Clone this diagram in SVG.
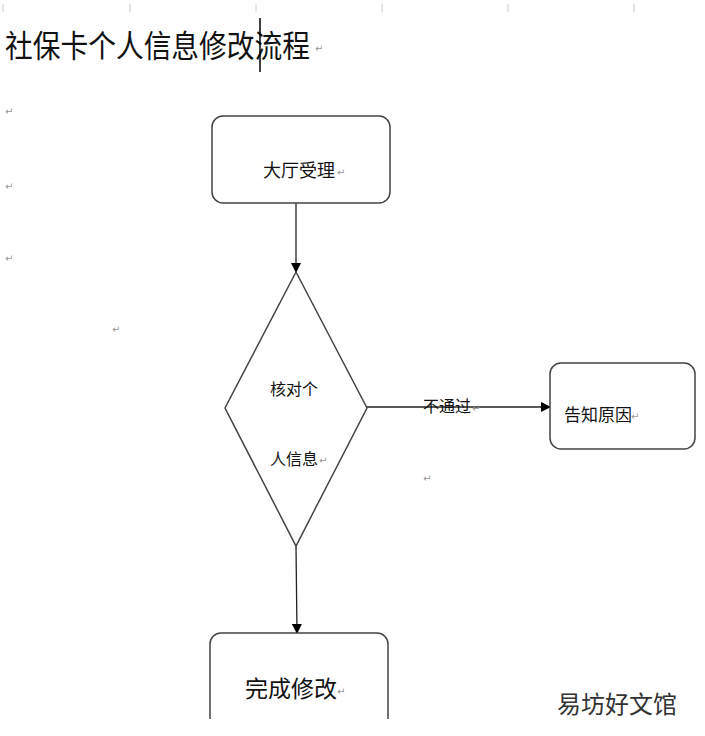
<svg xmlns="http://www.w3.org/2000/svg" width="705" height="736" viewBox="0 0 705 736">
<defs>
<marker id="ah" markerWidth="10" markerHeight="10" refX="9" refY="5" orient="auto" markerUnits="userSpaceOnUse"><path d="M0,0 L10,5 L0,10 z" fill="#000"/></marker>
<style>
.t{font-family:"Noto Sans CJK SC","Liberation Sans",sans-serif;fill:#111}
.m{font-family:"DejaVu Sans",sans-serif;fill:#999;font-size:10px}
.b{fill:#fff;stroke:#444;stroke-width:1.5}
.c{stroke:#222;stroke-width:1.3;fill:none}
</style>
</defs>
<rect width="705" height="736" fill="#fff"/>
<g stroke="#ccc" stroke-width="1"><line x1="3" y1="4" x2="3" y2="12"/><line x1="130" y1="4" x2="130" y2="12"/><line x1="256" y1="4" x2="256" y2="12"/><line x1="382" y1="4" x2="382" y2="12"/><line x1="508" y1="4" x2="508" y2="12"/><line x1="634" y1="4" x2="634" y2="12"/></g>
<text class="t" x="5" y="57" font-size="31" textLength="305" lengthAdjust="spacingAndGlyphs">社保卡个人信息修改流程</text>
<line x1="260" y1="18" x2="260" y2="72" stroke="#000" stroke-width="1.5"/>
<text class="m" x="315" y="52">↵</text>
<text class="m" x="5" y="115">↵</text>
<text class="m" x="5" y="190">↵</text>
<text class="m" x="5" y="262">↵</text>
<text class="m" x="112" y="333">↵</text>
<text class="m" x="423" y="482">↵</text>
<g id="connectors">
<line class="c" x1="296" y1="203" x2="296" y2="272" marker-end="url(#ah)"/>
<line class="c" x1="367" y1="407" x2="550" y2="407" marker-end="url(#ah)"/>
<line class="c" x1="296" y1="546" x2="297" y2="633" marker-end="url(#ah)"/>
<text class="t" x="423" y="412" font-size="16">不通过</text><text class="m" x="472" y="412">↵</text>
</g>
<g id="n1"><rect class="b" x="212" y="116" width="178" height="87" rx="11"/><text class="t" x="263" y="177" font-size="18">大厅受理</text><text class="m" x="337" y="176">↵</text></g>
<g id="n2"><polygon class="b" points="296,272 367,408 296,546 225,408"/><text class="t" x="270" y="395" font-size="16">核对个</text><text class="t" x="270" y="465" font-size="16">人信息</text><text class="m" x="319" y="464">↵</text></g>
<g id="n3"><rect class="b" x="550" y="363" width="145" height="86" rx="11"/><text class="t" x="564" y="421" font-size="17">告知原因</text><text class="m" x="631" y="420">↵</text></g>
<g id="n4"><rect class="b" x="210" y="633" width="178" height="100" rx="11"/><text class="t" x="245" y="697" font-size="23">完成修改</text><text class="m" x="337" y="695">↵</text></g>
<rect x="200" y="719" width="200" height="17" fill="#fff"/>
<text x="557" y="713" font-size="24" font-family="Noto Sans CJK SC,sans-serif" fill="#333">易坊好文馆</text>
</svg>
